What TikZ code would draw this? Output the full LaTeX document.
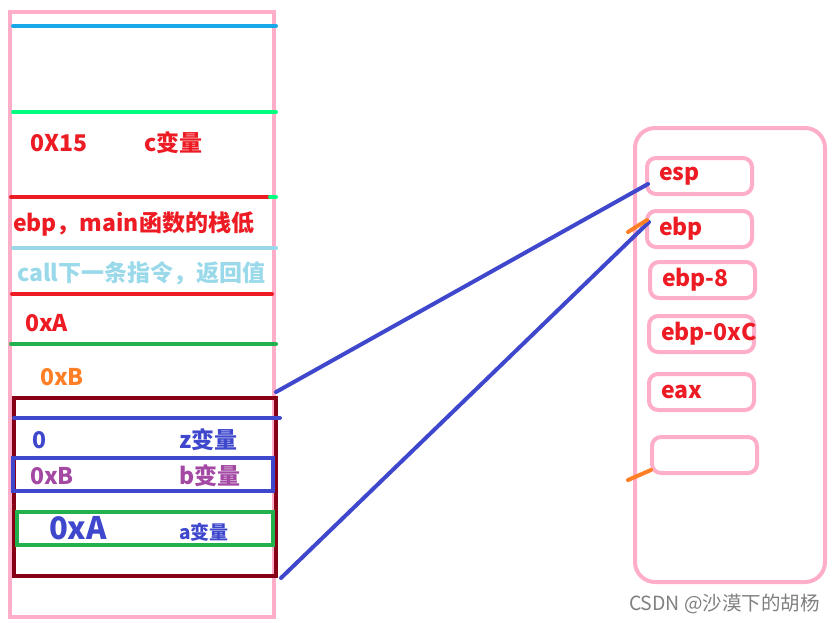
\documentclass[tikz,border=0pt]{standalone}
\usepackage{fontspec}
\setmainfont{Noto Sans CJK SC}
\usepackage{xcolor}
\usetikzlibrary{calc}
\definecolor{rose}{HTML}{FFAEC9}
\definecolor{pred}{HTML}{ED1C24}
\definecolor{skyb}{HTML}{1AA7E8}
\definecolor{sgreen}{HTML}{00FF7F}
\definecolor{lblue}{HTML}{99D9EA}
\definecolor{pgreen}{HTML}{22B14C}
\definecolor{porange}{HTML}{FF7F27}
\definecolor{dred}{HTML}{880015}
\definecolor{indigo}{HTML}{3F48CC}
\definecolor{purp}{HTML}{A349A4}

\begin{document}
\begin{tikzpicture}[x=1pt, y=-1pt, line width=4pt, line cap=round,
    lbl/.style={anchor=west, inner sep=0pt, font=\bfseries\fontsize{23}{27}\selectfont},
    regbox/.style={draw=rose, rounded corners=9pt, anchor=north west,
        minimum height=36pt, text width=81pt, inner xsep=12pt, align=left,
        font=\bfseries\fontsize{23}{27}\selectfont, text=pred}]

    \useasboundingbox (0,0) rectangle (834,622);

    % Stack column
    \draw[rose, line cap=butt] (10,12) rectangle (274,617);
    \draw[skyb]   (13,26)  -- (276,26);
    \draw[sgreen] (13,112) -- (276,112);
    \draw[pred]   (11,197) -- (270,197);
    \draw[sgreen] (270,197) -- (276,197);
    \draw[lblue]  (13,248) -- (276,248);
    \draw[pred]   (12,294) -- (272,294);
    \draw[pgreen] (11,344) -- (276,344);

    % Frame of the called function
    \node[draw=dred, line cap=butt, anchor=north west, inner sep=0pt,
        minimum width=262pt, minimum height=178pt] (frame) at (12,396) {};
    \draw[indigo] (14,418) -- (280,418);
    \draw[indigo, line cap=butt] (13,458) rectangle (273,491);
    \draw[pgreen, line cap=butt] (17,512) rectangle (273,545);

    % Stack contents
    \node[lbl, text=pred] (c15) at (28,143) {0X15};
    \node[lbl, text=pred] (cvar) at (142,143) {c变量};
    \node[lbl, text=pred] (oldebp) at (11,224) {ebp，main函数的栈低};
    \node[lbl, text=lblue] (ret) at (15,273) {call下一条指令，返回值};
    \node[lbl, text=pred] (argA) at (23,323) {0xA};
    \node[lbl, text=porange] (argB) at (38,377) {0xB};
    \node[lbl, text=indigo] (zval) at (30,440) {0};
    \node[lbl, text=indigo] (zvar) at (177,440) {z变量};
    \node[lbl, text=purp] (bval) at (28,476) {0xB};
    \node[lbl, text=purp] (bvar) at (177,476) {b变量};
    \node[lbl, text=indigo, font=\bfseries\fontsize{31}{35}\selectfont] (aval) at (47,528) {0xA};
    \node[lbl, text=indigo, font=\bfseries\fontsize{19}{23}\selectfont] (avar) at (177,532) {a变量};

    % Registers
    \node[draw=rose, line cap=butt, rounded corners=20pt, anchor=north west,
        minimum width=190pt, minimum height=454pt] (regs) at (633,126) {};
    \node[regbox] (esp) at (645,156) {esp};
    \node[regbox] (ebp) at (645,209) {ebp};
    \node[regbox] (ebp8) at (648,260) {ebp-8};
    \node[regbox] (ebpC) at (647,314) {\mbox{ebp-0xC}};
    \node[regbox] (eax) at (647,372) {eax};
    \node[regbox] (free) at (650,435) {};

    % Pointers into the frame
    \draw[indigo] ($(frame.north east)+(-2,-4)$) -- ($(esp.south west)+(3,-12)$);
    \draw[indigo] ($(frame.south east)+(3,0)$) -- ($(ebp.south west)+(4,-27)$);
    \draw[porange] ($(ebp.west)+(-17,3)$) -- ($(ebp.west)+(2,-9)$);
    \draw[porange] ($(free.south west)+(-22,5)$) -- ($(free.south west)+(1,-5)$);

    % Watermark
    \node[anchor=west, inner sep=0pt, text=gray, font=\fontsize{19.5}{23}\selectfont]
        (mark) at (627,604) {CSDN @沙漠下的胡杨};

\end{tikzpicture}
\end{document}
